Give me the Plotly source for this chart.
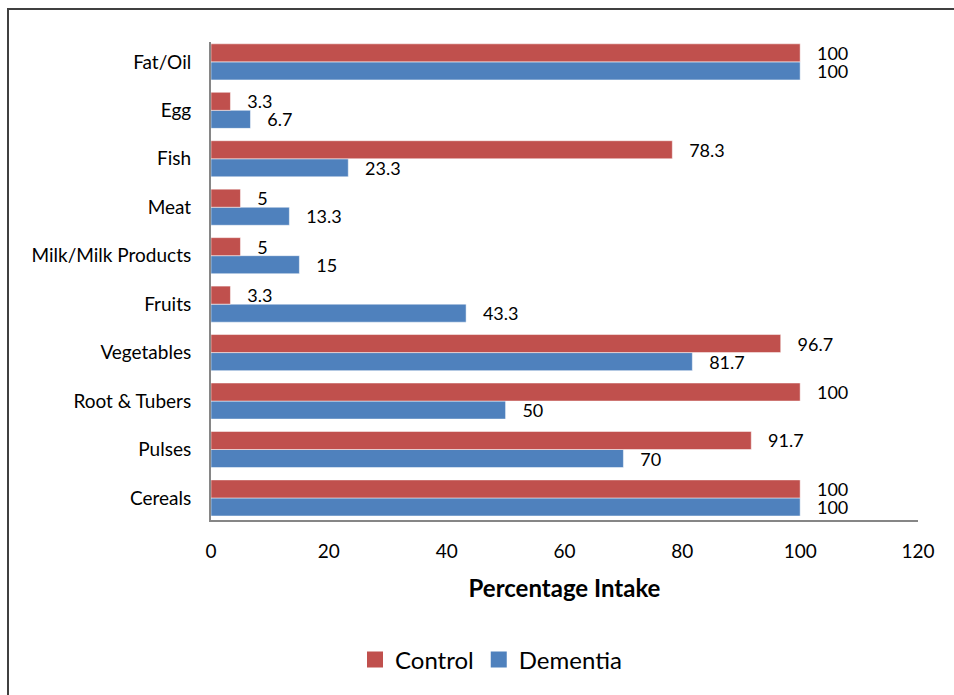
import plotly.graph_objects as go

categories = ["Cereals", "Pulses", "Root & Tubers", "Vegetables", "Fruits",
              "Milk/Milk Products", "Meat", "Fish", "Egg", "Fat/Oil"]
control = [100, 91.7, 100, 96.7, 3.3, 5, 5, 78.3, 3.3, 100]
dementia = [100, 70, 50, 81.7, 43.3, 15, 13.3, 23.3, 6.7, 100]
x_ticks = [0, 20, 40, 60, 80, 100, 120]

RED = "#C0504D"
BLUE = "#4F81BD"
FONT = "Lato, Carlito, Calibri, sans-serif"
PAD = "\u00a0" * 3

fig = go.Figure()
fig.add_trace(go.Bar(
    y=categories, x=dementia, name="Dementia", orientation="h",
    marker=dict(color=BLUE, line=dict(color="white", width=0.5)),
    text=dementia, texttemplate=PAD + "%{x}", textposition="outside",
    constraintext="none",
    textfont=dict(size=18, color="black", family=FONT), cliponaxis=False,
    showlegend=False,
))
fig.add_trace(go.Bar(
    y=categories, x=control, name="Control", orientation="h",
    marker=dict(color=RED, line=dict(color="white", width=0.5)),
    text=control, texttemplate=PAD + "%{x}", textposition="outside",
    constraintext="none",
    textfont=dict(size=18, color="black", family=FONT), cliponaxis=False,
    showlegend=False,
))
# legend entries (square swatches like the original)
for name, col, rank in [("Control", RED, 1), ("Dementia", BLUE, 2)]:
    fig.add_trace(go.Scatter(
        x=[None], y=[None], mode="markers", name=name,
        marker=dict(symbol="square", size=16, color=col),
        legendrank=rank, showlegend=True,
    ))

L, R, T, B = 211, 36, 42, 175
W, H = 954, 695
pw, ph = W - L - R, H - T - B

def px_x(p):
    return (p - L) / pw

def px_y(p):
    return (H - B - p) / ph

fig.update_layout(
    width=W, height=H,
    margin=dict(l=L, r=R, t=T, b=B, pad=0),
    paper_bgcolor="white", plot_bgcolor="white",
    barmode="group", bargap=0.255, bargroupgap=0,
    font=dict(family=FONT, color="black", size=19),
    xaxis=dict(
        range=[0, 120], tickvals=x_ticks, showgrid=False, zeroline=False,
        showline=True, linecolor="#868686", linewidth=2,
        ticks="", ticklabelstandoff=13, tickfont=dict(size=19),
        title=dict(text="<b>Percentage Intake</b>", font=dict(size=24), standoff=19),
    ),
    yaxis=dict(
        categoryorder="array", categoryarray=categories,
        range=[-0.455, 9.41],
        showgrid=False, zeroline=False, showline=True,
        linecolor="#868686", linewidth=2, ticks="",
        ticklabelstandoff=14, tickfont=dict(size=19),
    ),
    legend=dict(
        orientation="h", x=px_x(491), xanchor="center",
        y=px_y(660), yanchor="middle",
        font=dict(size=24), itemwidth=30, tracegroupgap=0,
    ),
    showlegend=True,
    shapes=[dict(
        type="rect", xref="paper", yref="paper",
        x0=px_x(8), x1=px_x(960), y0=px_y(705), y1=px_y(9),
        line=dict(color="#404040", width=2), fillcolor="rgba(0,0,0,0)",
        layer="below",
    )],
)

fig.write_html("out.html", config={"displayModeBar": False},
               post_script="document.body.style.margin='0';")
